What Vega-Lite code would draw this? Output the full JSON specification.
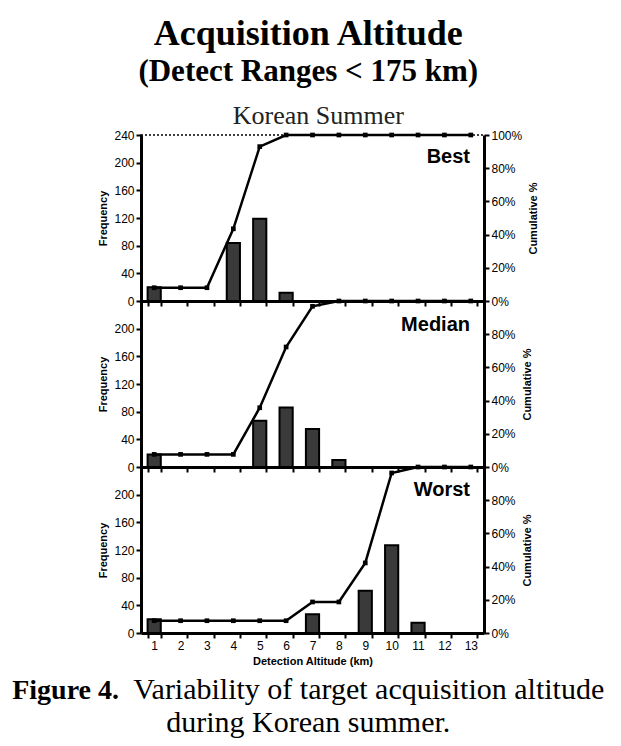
{
  "$schema": "https://vega.github.io/schema/vega-lite/v6.json",
  "background": "white",
  "padding": {"left": 12, "top": 16, "right": 5, "bottom": 5},
  "datasets": {
    "best": [
      {"alt": 1, "freq": 20, "cum": 8},
      {"alt": 2, "freq": 0, "cum": 8},
      {"alt": 3, "freq": 0, "cum": 8},
      {"alt": 4, "freq": 84, "cum": 43.5},
      {"alt": 5, "freq": 119, "cum": 93},
      {"alt": 6, "freq": 12, "cum": 100},
      {"alt": 7, "freq": 0, "cum": 100},
      {"alt": 8, "freq": 0, "cum": 100},
      {"alt": 9, "freq": 0, "cum": 100},
      {"alt": 10, "freq": 0, "cum": 100},
      {"alt": 11, "freq": 0, "cum": 100},
      {"alt": 12, "freq": 0, "cum": 100},
      {"alt": 13, "freq": 0, "cum": 100}
    ],
    "median": [
      {"alt": 1, "freq": 18, "cum": 7.6},
      {"alt": 2, "freq": 0, "cum": 7.6},
      {"alt": 3, "freq": 0, "cum": 7.6},
      {"alt": 4, "freq": 0, "cum": 7.6},
      {"alt": 5, "freq": 67, "cum": 35.7},
      {"alt": 6, "freq": 86, "cum": 72.3},
      {"alt": 7, "freq": 55, "cum": 96.8},
      {"alt": 8, "freq": 10, "cum": 100},
      {"alt": 9, "freq": 0, "cum": 100},
      {"alt": 10, "freq": 0, "cum": 100},
      {"alt": 11, "freq": 0, "cum": 100},
      {"alt": 12, "freq": 0, "cum": 100},
      {"alt": 13, "freq": 0, "cum": 100}
    ],
    "worst": [
      {"alt": 1, "freq": 20, "cum": 7.4},
      {"alt": 2, "freq": 0, "cum": 7.4},
      {"alt": 3, "freq": 0, "cum": 7.4},
      {"alt": 4, "freq": 0, "cum": 7.4},
      {"alt": 5, "freq": 0, "cum": 7.4},
      {"alt": 6, "freq": 0, "cum": 7.4},
      {"alt": 7, "freq": 27, "cum": 18.7},
      {"alt": 8, "freq": 0, "cum": 18.7},
      {"alt": 9, "freq": 61, "cum": 42.2},
      {"alt": 10, "freq": 127, "cum": 96.4},
      {"alt": 11, "freq": 15, "cum": 100},
      {"alt": 12, "freq": 0, "cum": 100},
      {"alt": 13, "freq": 0, "cum": 100}
    ]
  },
  "title": {
    "text": "Acquisition Altitude",
    "subtitle": "(Detect Ranges < 175 km)",
    "font": "Liberation Serif", "fontSize": 36, "fontWeight": "bold", "color": "black",
    "subtitleFont": "Liberation Serif", "subtitleFontSize": 31, "subtitleFontWeight": "bold", "subtitleColor": "black",
    "subtitlePadding": 4, "anchor": "middle", "offset": 15
  },
  "vconcat": [
    {
      "title": {
        "text": "during Korean summer.",
        "orient": "bottom", "anchor": "middle",
        "font": "Liberation Serif", "fontSize": 30, "fontWeight": "normal", "color": "black",
        "offset": 3
      },
      "vconcat": [
        {
          "title": {
            "text": "Figure 4.",
            "orient": "bottom", "anchor": "start",
            "font": "Liberation Serif", "fontSize": 28, "fontWeight": "bold", "color": "black",
            "offset": 0, "dx": -85, "dy": -28
          },
          "vconcat": [
            {
              "title": {
                "text": "Variability of target acquisition altitude",
                "orient": "bottom", "anchor": "start",
                "font": "Liberation Serif", "fontSize": 30, "fontWeight": "normal", "color": "black",
                "offset": 8, "dx": 36
              },
              "vconcat": [
                {
                  "title": {"text": "Korean Summer", "font": "Liberation Serif", "fontSize": 26, "fontWeight": "normal", "color": "#222", "offset": -1, "anchor": "middle"},
                  "spacing": 0,
                  "bounds": "flush",
                  "vconcat": [
                    {
                      "width": 343, "height": 166,
                      "data": {"name": "best"},
                      "title": {"text": "Best", "orient": "top", "anchor": "end", "frame": "group", "offset": -38, "dx": -14, "font": "Liberation Sans", "fontSize": 20, "fontWeight": "bold", "color": "black"},
                      "layer": [
                        {
                          "transform": [{"filter": "datum.freq > 0"}],
                          "mark": {"type": "bar", "fill": "#3a3a3a", "stroke": "black", "strokeWidth": 2},
                          "encoding": {
                            "x": {"field": "alt", "type": "ordinal", "scale": {"paddingInner": 0.5, "paddingOuter": 0.25}, "axis": {"labels": false, "title": null, "tickBand": "extent"}},
                            "y": {"field": "freq", "type": "quantitative", "scale": {"domain": [0, 240]}, "axis": {"values": [0, 40, 80, 120, 160, 200, 240], "title": "Frequency", "titlePadding": 5}}
                          }
                        },
                        {
                          "mark": {"type": "line", "color": "black", "strokeWidth": 2.5, "point": {"shape": "square", "filled": true, "size": 22, "color": "black"}},
                          "encoding": {
                            "x": {"field": "alt", "type": "ordinal"},
                            "y": {"field": "cum", "type": "quantitative", "scale": {"domain": [0, 100]}, "axis": {"orient": "right", "values": [0, 20, 40, 60, 80, 100], "labelExpr": "datum.value + '%'", "title": "Cumulative %", "titleAngle": 270, "titlePadding": 17}}
                          }
                        }
                      ],
                      "resolve": {"scale": {"y": "independent"}}
                    },
                    {
                      "width": 343, "height": 166,
                      "data": {"name": "median"},
                      "title": {"text": "Median", "orient": "top", "anchor": "end", "frame": "group", "offset": -39, "dx": -14, "font": "Liberation Sans", "fontSize": 20, "fontWeight": "bold", "color": "black"},
                      "layer": [
                        {
                          "transform": [{"filter": "datum.freq > 0"}],
                          "mark": {"type": "bar", "fill": "#3a3a3a", "stroke": "black", "strokeWidth": 2},
                          "encoding": {
                            "x": {"field": "alt", "type": "ordinal", "scale": {"paddingInner": 0.5, "paddingOuter": 0.25}, "axis": {"labels": false, "title": null, "tickBand": "extent"}},
                            "y": {"field": "freq", "type": "quantitative", "scale": {"domain": [0, 240]}, "axis": {"values": [0, 40, 80, 120, 160, 200], "title": "Frequency", "titlePadding": 5}}
                          }
                        },
                        {
                          "mark": {"type": "line", "color": "black", "strokeWidth": 2.5, "point": {"shape": "square", "filled": true, "size": 22, "color": "black"}},
                          "encoding": {
                            "x": {"field": "alt", "type": "ordinal"},
                            "y": {"field": "cum", "type": "quantitative", "scale": {"domain": [0, 100]}, "axis": {"orient": "right", "values": [0, 20, 40, 60, 80], "labelExpr": "datum.value + '%'", "title": "Cumulative %", "titleAngle": 270, "titlePadding": 17}}
                          }
                        }
                      ],
                      "resolve": {"scale": {"y": "independent"}}
                    },
                    {
                      "width": 343, "height": 166,
                      "data": {"name": "worst"},
                      "title": {"text": "Worst", "orient": "top", "anchor": "end", "frame": "group", "offset": -38, "dx": -14, "font": "Liberation Sans", "fontSize": 20, "fontWeight": "bold", "color": "black"},
                      "layer": [
                        {
                          "transform": [{"filter": "datum.freq > 0"}],
                          "mark": {"type": "bar", "fill": "#3a3a3a", "stroke": "black", "strokeWidth": 2},
                          "encoding": {
                            "x": {"field": "alt", "type": "ordinal", "scale": {"paddingInner": 0.5, "paddingOuter": 0.25}, "axis": {"labels": true, "labelAngle": 0, "title": "Detection Altitude (km)", "tickBand": "extent"}},
                            "y": {"field": "freq", "type": "quantitative", "scale": {"domain": [0, 240]}, "axis": {"values": [0, 40, 80, 120, 160, 200], "title": "Frequency", "titlePadding": 5}}
                          }
                        },
                        {
                          "mark": {"type": "line", "color": "black", "strokeWidth": 2.5, "point": {"shape": "square", "filled": true, "size": 22, "color": "black"}},
                          "encoding": {
                            "x": {"field": "alt", "type": "ordinal"},
                            "y": {"field": "cum", "type": "quantitative", "scale": {"domain": [0, 100]}, "axis": {"orient": "right", "values": [0, 20, 40, 60, 80], "labelExpr": "datum.value + '%'", "title": "Cumulative %", "titleAngle": 270, "titlePadding": 17}}
                          }
                        }
                      ],
                      "resolve": {"scale": {"y": "independent"}}
                    }
                  ]
                }
              ]
            }
          ]
        }
      ]
    }
  ],
  "config": {
    "view": {"stroke": "black", "strokeDash": [2, 2], "strokeWidth": 1.5},
    "font": "Liberation Sans",
    "axis": {
      "domainColor": "black", "domainWidth": 3, "tickColor": "black", "tickWidth": 2, "tickSize": 5,
      "labelColor": "black", "labelFontSize": 12, "labelFont": "Liberation Sans", "labelPadding": 2,
      "titleFont": "Liberation Sans", "titleFontSize": 11, "titleFontWeight": "bold", "titleColor": "black",
      "grid": false
    }
  }
}
